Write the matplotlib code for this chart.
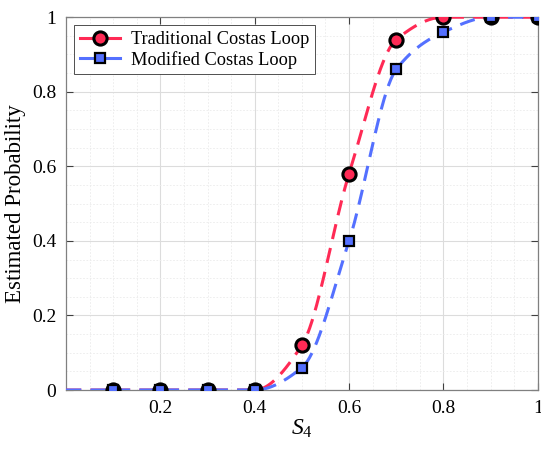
import numpy as np
import matplotlib
matplotlib.use("Agg")
from matplotlib import pyplot as plt
from matplotlib.ticker import MultipleLocator

plt.rcParams['font.family'] = ['Liberation Serif', 'DejaVu Serif']
plt.rcParams['mathtext.fontset'] = 'custom'
plt.rcParams['mathtext.rm'] = 'Liberation Serif'
plt.rcParams['mathtext.it'] = 'Liberation Serif:italic'

# data
s4 = [0.0, 0.1, 0.2, 0.3, 0.4, 0.5, 0.6, 0.7, 0.8, 0.9, 1.0]
p_traditional = [0.0, 0.0, 0.0, 0.0, 0.0, 0.12, 0.58, 0.94, 1.0, 1.0, 1.0]
p_modified = [0.0, 0.0, 0.0, 0.0, 0.0, 0.06, 0.40, 0.86, 0.96, 1.0, 1.0]

red = '#FF2A55'
blue = '#5470FF'


def pchip(x, y, xs):
    # monotone cubic (Fritsch-Carlson) for smooth drawing of the dashed line
    x = np.asarray(x, float)
    y = np.asarray(y, float)
    h = np.diff(x)
    d = np.diff(y) / h
    m = np.zeros_like(y)
    for k in range(1, len(x) - 1):
        if d[k - 1] * d[k] > 0:
            w1 = 2 * h[k] + h[k - 1]
            w2 = h[k] + 2 * h[k - 1]
            m[k] = (w1 + w2) / (w1 / d[k - 1] + w2 / d[k])
    m[0] = d[0]
    m[-1] = d[-1]
    idx = np.clip(np.searchsorted(x, xs) - 1, 0, len(x) - 2)
    t = (xs - x[idx]) / h[idx]
    h00 = 2 * t**3 - 3 * t**2 + 1
    h10 = t**3 - 2 * t**2 + t
    h01 = -2 * t**3 + 3 * t**2
    h11 = t**3 - t**2
    return h00 * y[idx] + h10 * h[idx] * m[idx] + h01 * y[idx + 1] + h11 * h[idx] * m[idx + 1]


fig = plt.figure(figsize=(5.41, 4.53), dpi=100)
ax = fig.add_axes([0.122, 0.139, 0.872, 0.823])

xs = np.linspace(0, 1, 400)
ax.plot(xs, pchip(s4, p_traditional, xs), color=red, lw=2.2, ls=(0, (5, 3)), zorder=3)
ax.plot(xs, pchip(s4, p_modified, xs), color=blue, lw=2.2, ls=(0, (5, 3)), zorder=3)
ax.plot(s4[1:], p_traditional[1:], ls='none', marker='o', ms=9.5, mfc=red, mec='k', mew=2.2, zorder=4)
ax.plot(s4[1:], p_modified[1:], ls='none', marker='s', ms=7.5, mfc=blue, mec='k', mew=1.6, zorder=5)

# legend handles
ax.plot([], [], color=red, lw=2.2, marker='o', ms=9.5, mfc=red, mec='k', mew=2.2, label='Traditional Costas Loop')
ax.plot([], [], color=blue, lw=2.2, marker='s', ms=7.5, mfc=blue, mec='k', mew=1.6, label='Modified Costas Loop')

ax.set_xlim(0, 1)
ax.set_ylim(0, 1)
ax.set_xticks([0.2, 0.4, 0.6, 0.8, 1.0])
ax.set_xticklabels(['0.2', '0.4', '0.6', '0.8', '1'])
ax.set_yticks([0, 0.2, 0.4, 0.6, 0.8, 1.0])
ax.set_yticklabels(['0', '0.2', '0.4', '0.6', '0.8', '1'])
ax.xaxis.set_minor_locator(MultipleLocator(0.05))
ax.yaxis.set_minor_locator(MultipleLocator(0.05))
ax.tick_params(which='major', direction='in', length=5, width=0.8, color='#404040',
               top=True, right=True, labelsize=14, pad=7)
ax.tick_params(which='minor', length=0)
ax.grid(which='major', color='#dcdcdc', lw=0.8)
ax.grid(which='minor', color='#ebebeb', lw=0.6, ls=(0, (2, 2)))
ax.set_axisbelow(True)
for sp in ax.spines.values():
    sp.set_color('#808080')
    sp.set_linewidth(0.9)

ax.set_xlabel(r'$S_4$', fontsize=17, labelpad=1)
ax.set_ylabel('Estimated Probability', fontsize=16.5, labelpad=4)

leg = ax.legend(loc='upper left', fontsize=13.2, fancybox=False, edgecolor='#333333',
                framealpha=1, borderaxespad=0.45, handlelength=2.2, handletextpad=0.6,
                labelspacing=0.15, borderpad=0.3)
leg.get_frame().set_linewidth(0.6)

fig.savefig('out.png', dpi=100)
